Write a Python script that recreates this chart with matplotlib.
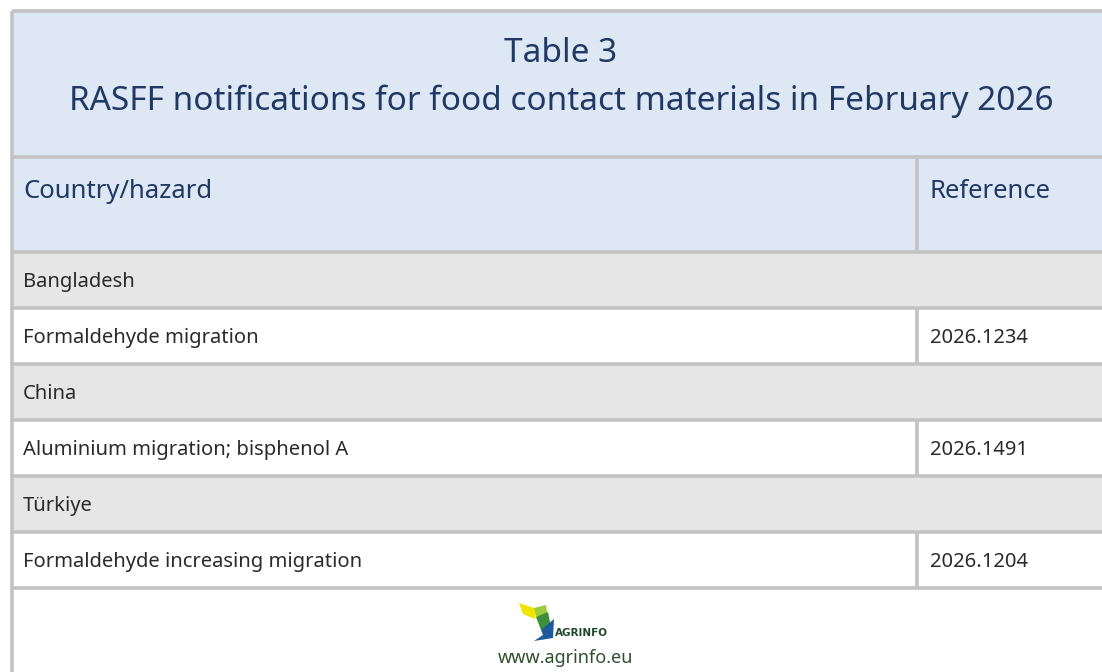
import matplotlib
matplotlib.use("Agg")
import matplotlib.pyplot as plt
from matplotlib.patches import Rectangle, Polygon

plt.rcParams['font.family'] = ['Noto Sans', 'DejaVu Sans']

title_lines = ["Table 3", "RASFF notifications for food contact materials in February 2026"]
header = ["Country/hazard", "Reference"]
countries = ["Bangladesh", "China", "Türkiye"]
hazards = ["Formaldehyde migration", "Aluminium migration; bisphenol A", "Formaldehyde increasing migration"]
references = ["2026.1234", "2026.1491", "2026.1204"]
footer_url = "www.agrinfo.eu"

W, H = 1102, 672
fig = plt.figure(figsize=(W / 100, H / 100), dpi=100)
ax = fig.add_axes([0, 0, 1, 1])
ax.set_xlim(0, W)
ax.set_ylim(H, 0)
ax.axis("off")

blue_bg = "#dde8f4"
gray_bg = "#e6e6e6"
border = "#c3c3c3"
navy = "#1f3864"
dark = "#2a2a2a"
lw = 2.6

left, right = 12, W + 5
col_x = 917
title_top, title_bot = 11, 157
head_bot = 252
row_h = 56

# title block
ax.add_patch(Rectangle((left, title_top), right - left, title_bot - title_top, fc=blue_bg, ec="none"))
ax.text(561, 53, title_lines[0], ha="center", va="center", fontsize=24, color=navy)
ax.text(561, 101, title_lines[1], ha="center", va="center", fontsize=24, color=navy)

# header
ax.add_patch(Rectangle((left, title_bot), right - left, head_bot - title_bot, fc=blue_bg, ec="none"))
ax.text(23, 191, header[0], ha="left", va="center", fontsize=18.5, color=navy)
ax.text(930, 191, header[1], ha="left", va="center", fontsize=18.5, color=navy)

# rows
y = head_bot
row_lines = [title_top, title_bot, head_bot]
for c, hz, ref in zip(countries, hazards, references):
    ax.add_patch(Rectangle((left, y), right - left, row_h, fc=gray_bg, ec="none"))
    ax.text(23, y + row_h / 2 + 2, c, ha="left", va="center", fontsize=14.5, color=dark)
    y += row_h
    row_lines.append(y)
    ax.add_patch(Rectangle((left, y), right - left, row_h, fc="white", ec="none"))
    ax.text(23, y + row_h / 2 + 2, hz, ha="left", va="center", fontsize=14.5, color=dark)
    ax.text(930, y + row_h / 2 + 2, ref, ha="left", va="center", fontsize=14.5, color=dark)
    ax.plot([col_x, col_x], [y, y + row_h], color=border, lw=lw, solid_capstyle="butt")
    y += row_h
    row_lines.append(y)

for yy in row_lines:
    ax.plot([left, right], [yy, yy], color=border, lw=lw, solid_capstyle="butt")
ax.plot([col_x, col_x], [title_bot, head_bot], color=border, lw=lw, solid_capstyle="butt")
ax.plot([left, left], [title_top, H + 5], color=border, lw=lw, solid_capstyle="butt")

# logo (approximate)
ax.add_patch(Polygon([(519, 603), (537, 609), (535, 619), (523, 614)], closed=True, fc="#f0e400", ec="none"))
ax.add_patch(Polygon([(534, 608), (546, 605), (548, 619), (538, 622)], closed=True, fc="#9ccc3c", ec="none"))
ax.add_patch(Polygon([(536, 617), (548, 612), (551, 627), (541, 630)], closed=True, fc="#3f8f3a", ec="none"))
ax.add_patch(Polygon([(541, 630), (554, 619), (553, 638), (534, 641), (543, 635)], closed=True, fc="#1e5a9c", ec="none"))
ax.text(555, 633, "AGRINFO", ha="left", va="center", fontsize=7.5, fontweight="bold",
        family=["DejaVu Sans"], color="#1f4a2a")
ax.text(565, 658, footer_url, ha="center", va="center", fontsize=13, color="#2f4f2f")

fig.savefig("out.png", dpi=100)
